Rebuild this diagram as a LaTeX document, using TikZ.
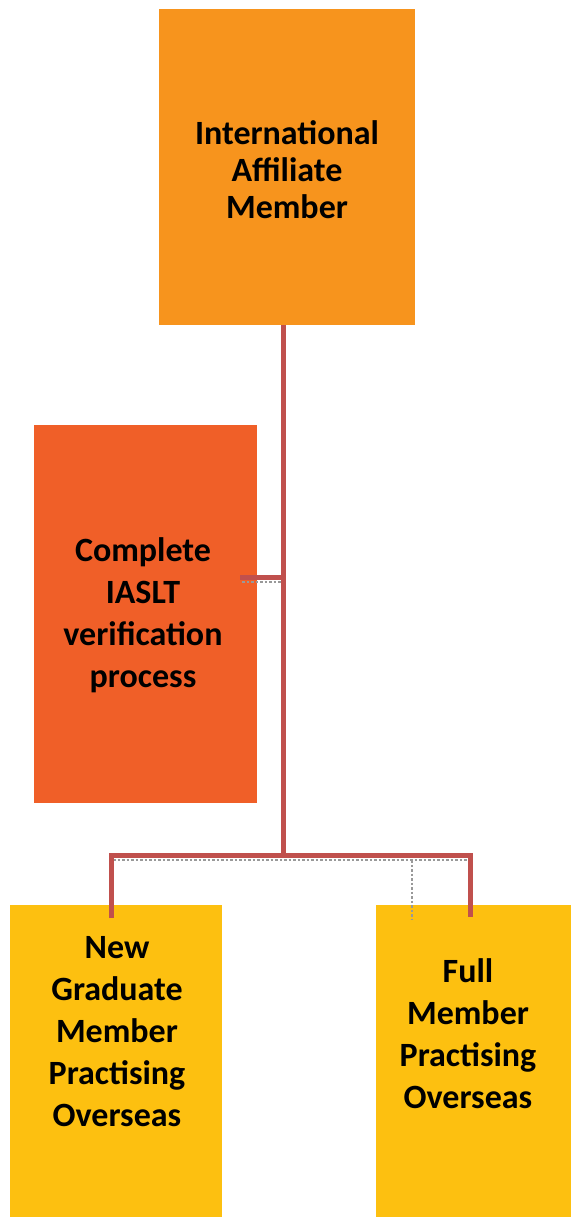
\documentclass[tikz,border=0pt]{standalone}
\usepackage{fontspec}
\setmainfont{Carlito}
\definecolor{topc}{HTML}{F7941D}
\definecolor{midc}{HTML}{F05F28}
\definecolor{botc}{HTML}{FDC010}
\definecolor{linec}{HTML}{C0504D}
\begin{document}
\begin{tikzpicture}[x=1pt,y=-1pt,
  box/.style={inner sep=0pt, outer sep=0pt, draw=none},
  lbl/.style={align=center, font=\bfseries\fontsize{34}{37}\selectfont, text=black},
  lbl2/.style={align=center, font=\bfseries\fontsize{34}{42}\selectfont, text=black},
  conn/.style={draw=linec, line width=5pt},
  shadow/.style={draw=black!40, line width=2.5pt, dotted}]
\useasboundingbox (0,0) rectangle (571,1217);
% boxes
\path[fill=topc] (159,9) rectangle (415,325);
\node[box] (top) at (287,167) {};
\coordinate (topS) at (283,325);
\path[fill=midc] (34,425) rectangle (257,803);
\path[fill=botc] (10,905) rectangle (222,1217);
\path[fill=botc] (376,905) rectangle (571,1217);
% texts
\node[lbl] (ttop) at (287,170) {International\\Affiliate\\Member};
\node[lbl2] (tmid) at (143,615) {Complete\\IASLT\\verification\\process};
\node[lbl2] (tbl) at (117,1032) {New\\Graduate\\Member\\Practising\\Overseas};
\node[lbl2] (tbr) at (468,1034) {Full\\Member\\Practising\\Overseas};
% connectors
\coordinate (j1) at (283,577);
\coordinate (midE) at (240,577);
\coordinate (j2) at (283,855);
\coordinate (bl) at (111,855);
\coordinate (br) at (470,855);
\coordinate (blE) at (111,918);
\coordinate (brE) at (470,917);
\coordinate (gs) at (412,860);
\coordinate (ge) at (412,920);
\draw[shadow] (242,582) -- (281,582);
\draw[shadow] (113,860) -- (468,860);
\draw[shadow] (gs) -- (ge);
\draw[conn] (topS) -- (j2);
\draw[conn] (midE) -- (j1);
\draw[conn] (blE) -- (bl) -- (br) -- (brE);
\end{tikzpicture}
\end{document}
